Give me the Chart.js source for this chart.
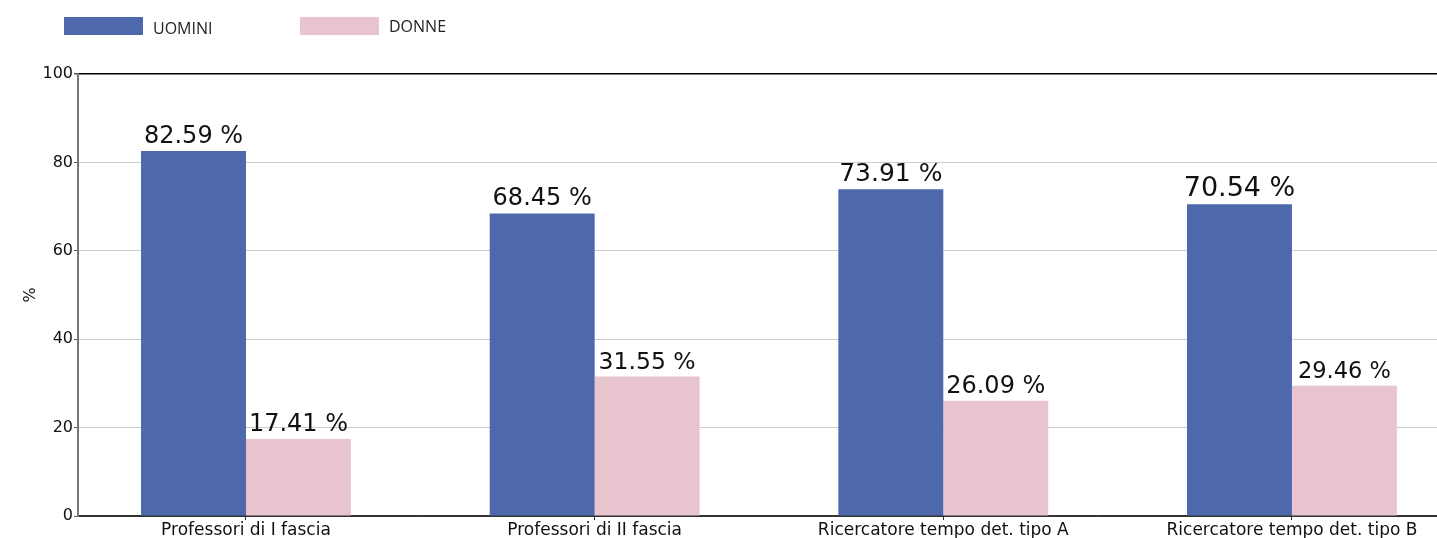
<!DOCTYPE html>
<html>
<head>
<meta charset="utf-8">
<script src="https://cdn.jsdelivr.net/npm/chart.js@4"></script>
<style>
  body { margin: 0; background: #fff; }
  canvas { display: block; }
</style>
</head>
<body>
<canvas id="chart" width="1437" height="538"></canvas>
<script>
const categories = ['Professori di I fascia', 'Professori di II fascia', 'Ricercatore tempo det. tipo A', 'Ricercatore tempo det. tipo B'];
const uomini = [82.59, 68.45, 73.91, 70.54];
const donne = [17.41, 31.55, 26.09, 29.46];
const seriesNames = ['UOMINI', 'DONNE'];
const yTicks = [0, 20, 40, 60, 80, 100];

const colors = ['#4d69ab', '#e8c4ce'];
// taille des étiquettes (à peu près comme dans l'original)
const labelSizes = [[24, 24], [24, 23.5], [25, 24], [27, 22.5]];

// étiquettes de valeur au-dessus des barres
const valueLabels = {
  id: 'valueLabels',
  afterDatasetsDraw(chart) {
    const ctx = chart.ctx;
    ctx.save();
    ctx.fillStyle = '#111';
    ctx.textAlign = 'center';
    ctx.textBaseline = 'alphabetic';
    chart.data.datasets.forEach((ds, di) => {
      chart.getDatasetMeta(di).data.forEach((bar, i) => {
        ctx.font = labelSizes[i][di] + 'px "DejaVu Sans"';
        ctx.fillText(ds.data[i].y.toFixed(2) + ' %', bar.x, bar.y - 8);
      });
    });
    ctx.restore();
  }
};

// légende dessinée à la main en haut à gauche
const topLegend = {
  id: 'topLegend',
  afterDraw(chart) {
    const ctx = chart.ctx;
    const boxX = [64, 300];
    ctx.save();
    ctx.font = '16px "Open Sans"';
    ctx.textBaseline = 'alphabetic';
    chart.data.datasets.forEach((ds, i) => {
      ctx.fillStyle = ds.backgroundColor;
      ctx.fillRect(boxX[i], 17, 79, 18);
      ctx.fillStyle = '#222';
      ctx.fillText(ds.label, boxX[i] + 89, i === 0 ? 34 : 32);
    });
    ctx.restore();
  }
};

const toPoints = arr => arr.map((v, i) => ({x: i, y: v}));

new Chart(document.getElementById('chart'), {
  type: 'bar',
  data: {
    datasets: [
      { label: seriesNames[0], data: toPoints(uomini), backgroundColor: colors[0] },
      { label: seriesNames[1], data: toPoints(donne), backgroundColor: colors[1] }
    ]
  },
  options: {
    responsive: false,
    animation: false,
    layout: { padding: { top: 74, left: 0, right: 0, bottom: 0 } },
    datasets: { bar: { categoryPercentage: 0.602, barPercentage: 1 } },
    plugins: { legend: { display: false }, tooltip: { enabled: false } },
    scales: {
      x: {
        type: 'linear',
        offset: false,
        min: -0.4818,
        max: 3.416,
        afterBuildTicks: s => { s.ticks = categories.map((c, i) => ({value: i})); },
        afterFit: s => { s.height = 22; },
        ticks: {
          callback: v => categories[v],
          maxRotation: 0,
          autoSkip: false,
          padding: 0,
          color: '#111',
          font: { family: 'DejaVu Sans', size: 17 }
        },
        grid: { offset: false, drawOnChartArea: false, color: '#333', tickLength: 4 },
        border: { color: '#333', width: 1.2 }
      },
      y: {
        min: 0,
        max: 100,
        afterBuildTicks: s => { s.ticks = yTicks.map(v => ({value: v})); },
        afterFit: s => { s.width = 78; },
        ticks: {
          padding: 1,
          color: '#111',
          font: { family: 'DejaVu Sans', size: 16 }
        },
        grid: {
          color: c => c.tick.value === 100 ? '#000' : (c.tick.value === 0 ? '#333' : '#cccccc'),
          lineWidth: c => c.tick.value === 100 ? 1.5 : 1,
          tickColor: '#555',
          tickLength: 4
        },
        border: { color: '#777', width: 2 },
        title: {
          display: true,
          text: '%',
          color: '#111',
          padding: { top: 21 },
          font: { family: 'DejaVu Sans', size: 16 }
        }
      }
    }
  },
  plugins: [valueLabels, topLegend]
});
</script>
</body>
</html>
